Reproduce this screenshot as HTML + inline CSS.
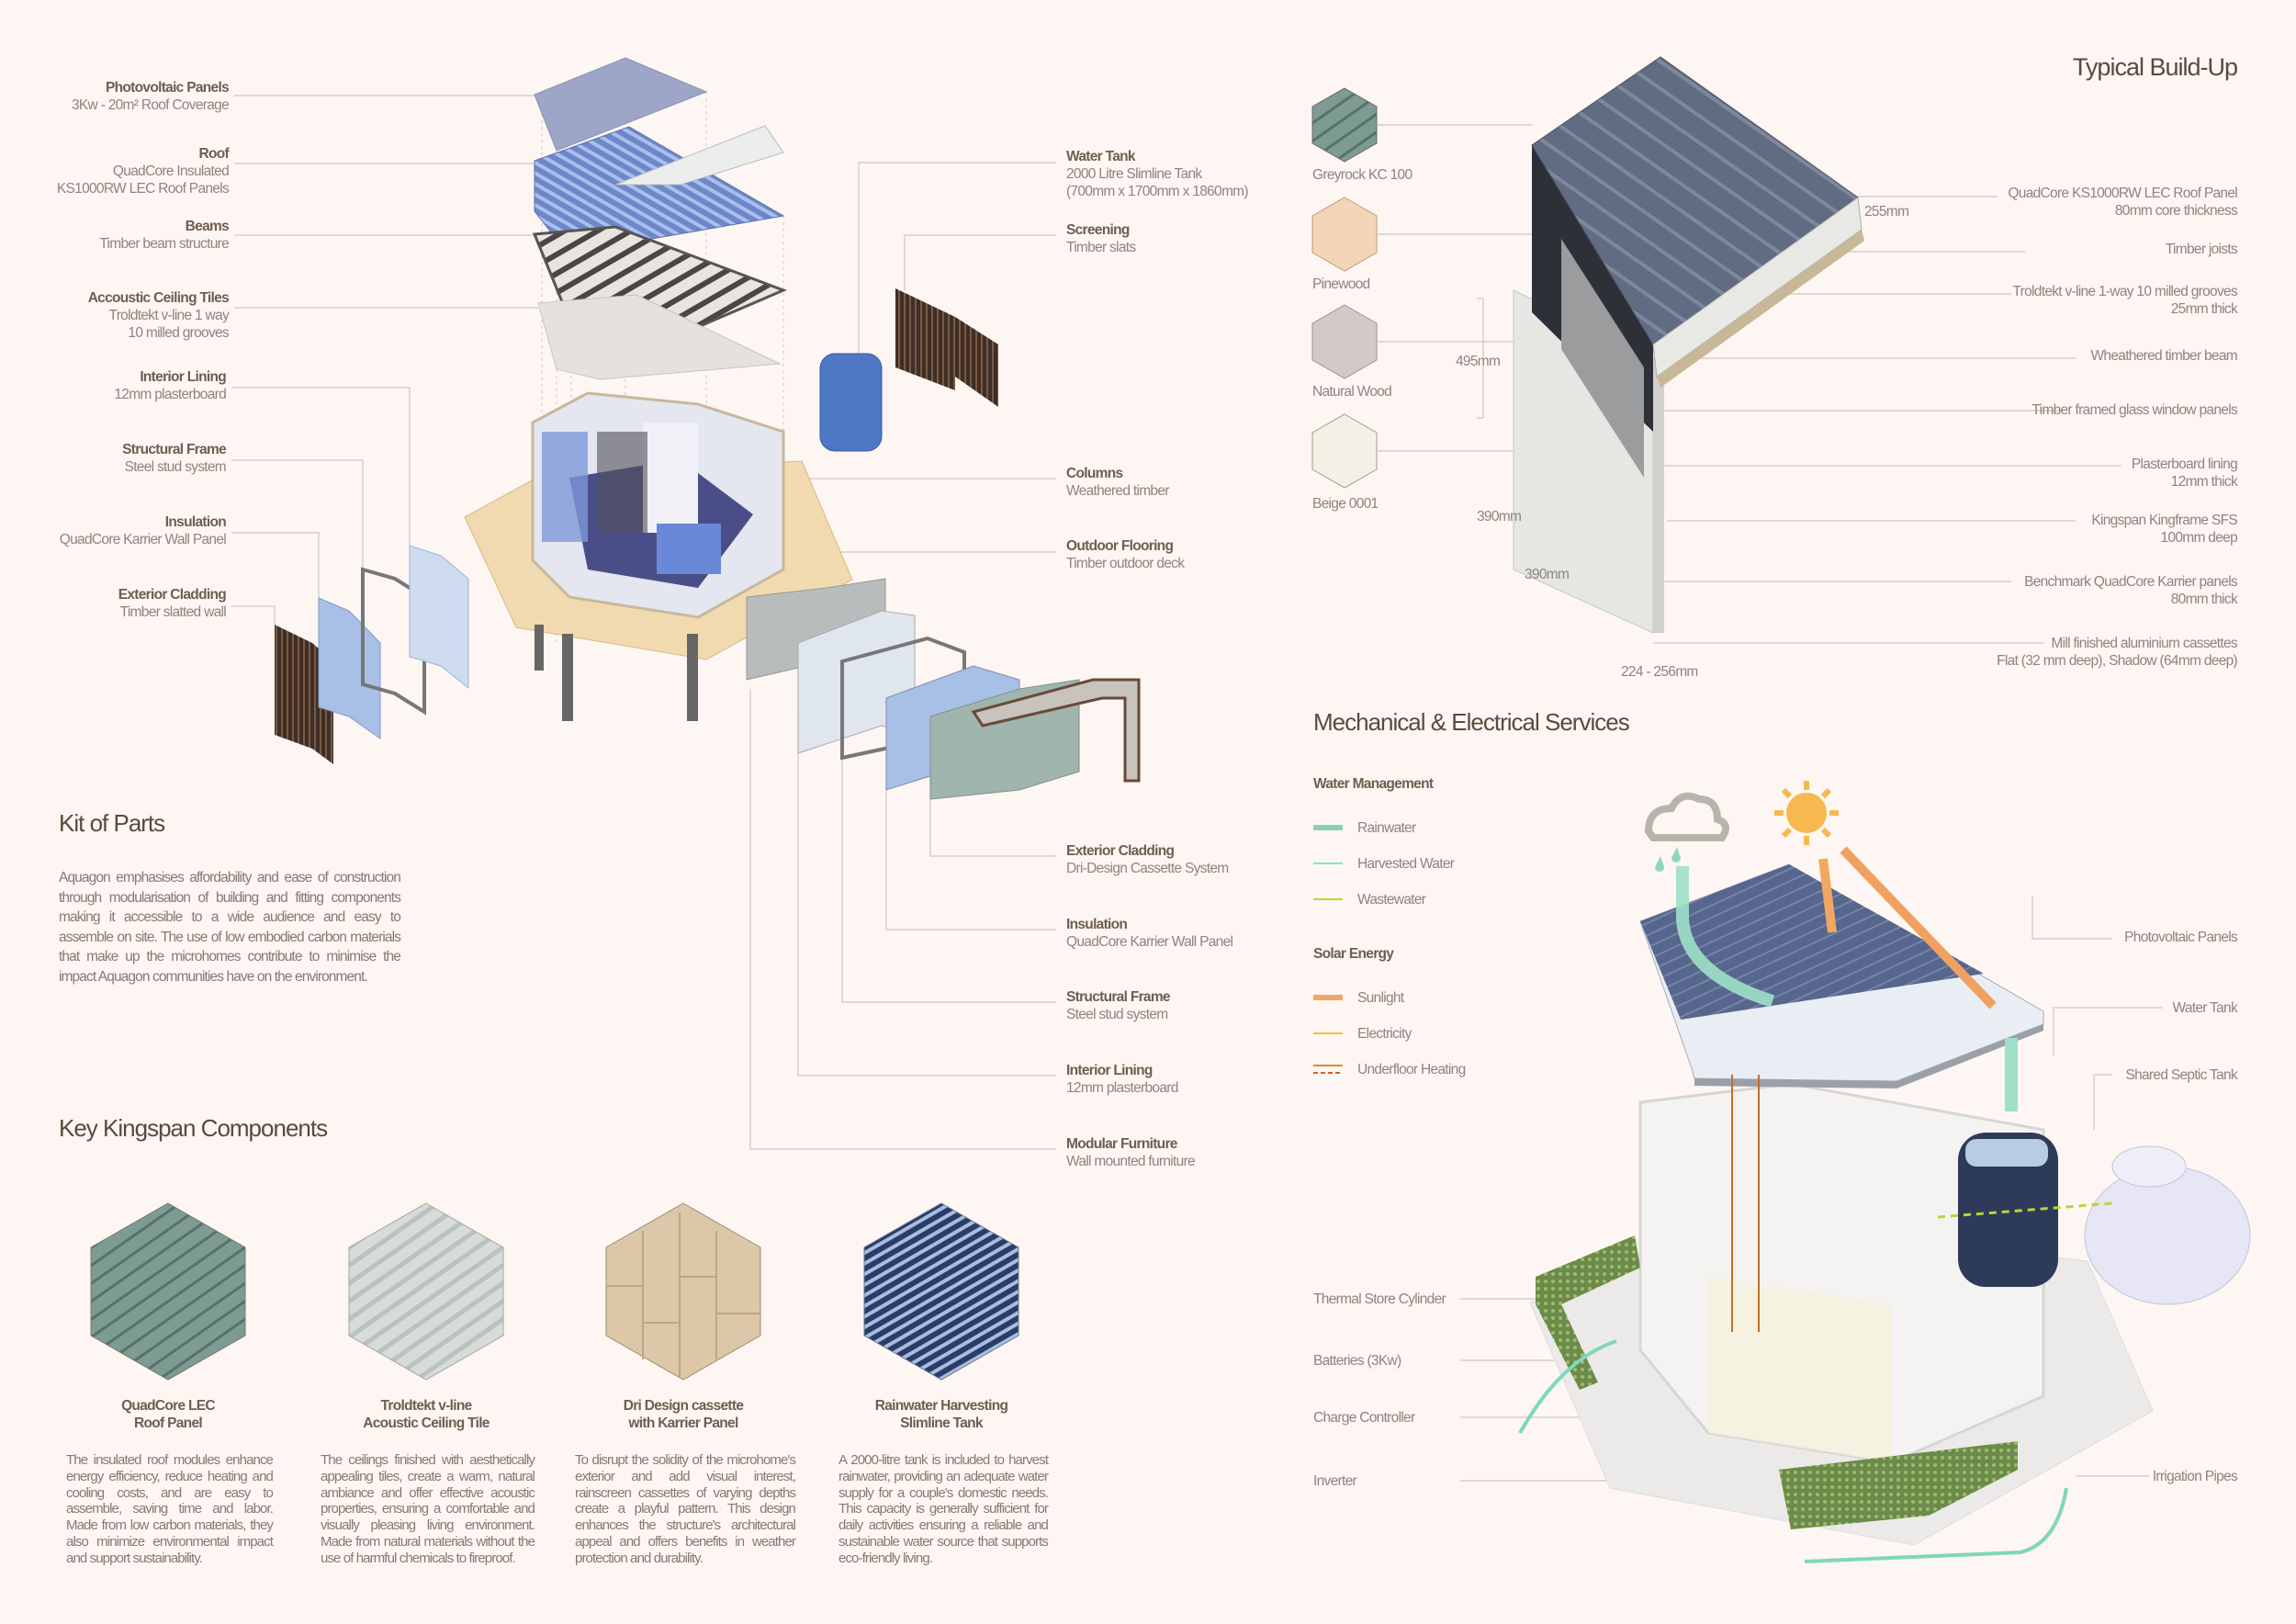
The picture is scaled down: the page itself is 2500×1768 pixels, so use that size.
<!DOCTYPE html>
<html><head><meta charset="utf-8">
<style>
*{margin:0;padding:0;box-sizing:border-box}
body{width:2500px;height:1768px;background:#fdf6f2;position:relative;overflow:hidden;font-family:"Liberation Sans Narrow","Liberation Sans",sans-serif;color:#8e847b}
svg{position:absolute;left:0;top:0}
.t{position:absolute;font-size:15.5px;line-height:19px;letter-spacing:-0.7px;white-space:nowrap}
.r{text-align:right}
.b{font-weight:bold;color:#6e5e50}
h2{position:absolute;font-weight:normal;font-size:26px;color:#5a4a3c;letter-spacing:-1px;white-space:nowrap}
.p{position:absolute;font-size:15px;line-height:17.8px;text-align:justify;letter-spacing:-0.9px;color:#857a70}
.c{text-align:center}
</style></head><body>
<svg width="2500" height="1768" viewBox="0 0 2500 1768">
<defs>
<pattern id="st" width="10" height="10" patternUnits="userSpaceOnUse" patternTransform="rotate(30)"><rect width="10" height="10" fill="#6f86c8"/><rect width="10" height="4" fill="#a8c0ee"/></pattern>
<pattern id="bm" width="18" height="18" patternUnits="userSpaceOnUse" patternTransform="rotate(-30)"><rect width="18" height="18" fill="#e8e4df"/><rect width="18" height="6" fill="#4a4644"/></pattern>
<pattern id="pv" width="12" height="12" patternUnits="userSpaceOnUse" patternTransform="rotate(-25)"><rect width="12" height="12" fill="#56668c"/><rect width="12" height="2" fill="#7484a8"/></pattern>
<pattern id="rf" width="24" height="24" patternUnits="userSpaceOnUse" patternTransform="rotate(35)"><rect width="24" height="24" fill="#616c82"/><rect width="24" height="4" fill="#7d889c"/></pattern>
<pattern id="sl" width="6" height="6" patternUnits="userSpaceOnUse"><rect width="6" height="6" fill="#3e2e26"/><rect width="2" height="6" fill="#7a5a44"/></pattern>
<pattern id="h1" width="16" height="16" patternUnits="userSpaceOnUse" patternTransform="rotate(-35)"><rect width="16" height="16" fill="#7d9b92"/><rect width="16" height="3" fill="#56726a"/></pattern>
<pattern id="h2" width="16" height="16" patternUnits="userSpaceOnUse" patternTransform="rotate(-35)"><rect width="16" height="16" fill="#d5dcd9"/><rect width="16" height="5" fill="#b8c2c0"/></pattern>
<pattern id="h4" width="10" height="10" patternUnits="userSpaceOnUse" patternTransform="rotate(-30)"><rect width="10" height="10" fill="#2a3d6a"/><rect width="10" height="4" fill="#a9bddd"/></pattern>
<pattern id="gr" width="8" height="8" patternUnits="userSpaceOnUse"><rect width="8" height="8" fill="#6c8a4a"/><circle cx="3" cy="3" r="2" fill="#9dbb6a"/></pattern>
</defs>
<g stroke="#cfc6be" stroke-width="1.2" fill="none">
<path d="M255 104H582"/><path d="M255 178H582"/><path d="M255 256H582"/><path d="M255 335H586"/>
<path d="M252 422H446V594"/><path d="M252 501H395V620"/><path d="M252 580H347V651"/><path d="M252 660H299V680"/>
<path d="M1150 177H935V385"/><path d="M1150 256H985V316"/><path d="M1150 521H850"/><path d="M1150 601H900"/>
<path d="M1150 932H1013V840"/><path d="M1150 1012H965V820"/><path d="M1150 1091H917V800"/><path d="M1150 1171H869V780"/><path d="M1150 1251H817V750"/>
<path d="M1500 136H1668"/><path d="M1500 255H1668"/><path d="M1500 372H1658"/><path d="M1500 491H1648"/>
<path d="M2020 214H2175"/><path d="M1990 274H2205"/><path d="M1890 320H2190"/><path d="M1825 390H2260"/><path d="M1810 447H2245"/><path d="M1812 507H2310"/><path d="M1815 567H2260"/><path d="M1810 633H2190"/><path d="M1800 700H2225"/>
<path d="M1615 325V455M1608 325H1615M1608 455H1615"/>
<path d="M2213 975V1022H2300"/><path d="M2236 1150V1097H2355"/><path d="M2280 1230V1170H2300"/><path d="M1590 1414H1860"/><path d="M1590 1481H1870"/><path d="M1590 1543H1870"/><path d="M1590 1612H1935V1530"/><path d="M2260 1607H2340"/>
</g>
<g stroke="#cfc6be" stroke-dasharray="3 4" fill="none">
<path d="M590 103V700M606 164V700M681 63V500M769 100V450M853 235V700M622 353V700"/>
</g>
<polygon points="582,103 681,63 769,100 606,164" fill="#9ea6c8" stroke="#8890b0"/>
<polygon points="582,175 685,138 853,235 618,276 582,230" fill="url(#st)" stroke="#5a70b0"/>
<polygon points="670,201 833,137 853,166 741,201" fill="#eceeed" stroke="#bbb"/>
<polygon points="582,255 670,247 853,316 753,359 622,353" fill="url(#bm)" stroke="#555" stroke-width="3"/>
<polygon points="586,330 693,321 849,396 654,413 606,402" fill="#e4e1df" stroke="#c8c4c0"/>
<polygon points="506,563 590,517 873,502 928,631 769,718 562,683" fill="#f2dab0" stroke="#d8b884"/>
<polygon points="580,460 640,428 760,440 853,470 853,620 760,672 620,650 580,610" fill="#e4e6f0" stroke="#c8b89c" stroke-width="3"/>
<polygon points="620,520 740,500 820,560 760,640 640,620" fill="#4a4e88"/>
<rect x="590" y="470" width="50" height="120" fill="#7e98d8" opacity=".8"/>
<rect x="700" y="460" width="60" height="120" fill="#f0f0f6"/>
<rect x="715" y="570" width="70" height="55" fill="#6a88d8"/>
<rect x="650" y="470" width="55" height="110" fill="#50505a" opacity=".6"/>
<g fill="#666"><rect x="612" y="690" width="12" height="95"/><rect x="748" y="690" width="12" height="95"/><rect x="582" y="680" width="10" height="50"/></g>
<polygon points="299,680 340,700 363,720 363,832 340,815 299,800" fill="url(#sl)"/>
<polygon points="347,651 380,665 414,700 414,804 380,780 347,770" fill="#a8c0e6" stroke="#7f9ad0"/>
<polygon points="395,620 430,630 462,650 462,775 430,755 395,745" fill="none" stroke="#777" stroke-width="4"/>
<polygon points="446,594 480,605 510,630 510,749 480,725 446,715" fill="#cfdcef" stroke="#a0b4d8"/>
<rect x="893" y="385" width="67" height="106" rx="16" fill="#4e78c4" stroke="#3a5aa0"/>
<polygon points="975,314 1040,345 1087,375 1087,443 1040,410 1040,425 975,400" fill="url(#sl)"/>
<polygon points="813,650 900,640 964,630 964,705 900,720 813,740" fill="#b8bcbc" stroke="#999"/>
<polygon points="869,700 960,665 996,670 996,800 960,790 869,820" fill="#dfe6ee" stroke="#aaa"/>
<polygon points="917,720 1010,695 1050,710 1050,820 1010,805 917,825" fill="none" stroke="#777" stroke-width="4"/>
<polygon points="965,760 1060,725 1110,740 1110,840 1060,830 965,860" fill="#a8bfe6" stroke="#88a"/>
<polygon points="1013,780 1110,750 1175,740 1175,840 1110,860 1013,870" fill="#9fb5ad" stroke="#7e948c"/>
<polygon points="1060,775 1190,740 1240,740 1240,850 1225,850 1225,760 1200,760 1070,790" fill="#c8c4bc" stroke="#6a4a3a" stroke-width="3"/>
<polygon points="1464,96 1499,116 1499,156 1464,176 1429,156 1429,116" fill="url(#h1)" stroke="#6a6a60"/>
<polygon points="1464,215 1499,235 1499,275 1464,295 1429,275 1429,235" fill="#f3d6b8" stroke="#b89a7a"/>
<polygon points="1464,332 1499,352 1499,392 1464,412 1429,392 1429,352" fill="#d4c8c8" stroke="#a09090"/>
<polygon points="1464,451 1499,471 1499,511 1464,531 1429,511 1429,471" fill="#f3f1e6" stroke="#a09a88"/>
<polygon points="1648,316 1800,390 1800,689 1648,620" fill="#e6e6e2" stroke="#c8c8c4"/>
<polygon points="1800,390 1812,390 1812,689 1800,689" fill="#d0d0cc"/>
<polygon points="1668,158 1800,375 1800,470 1668,340" fill="#2e3038"/>
<polygon points="1700,260 1790,400 1790,520 1700,380" fill="#9a9c9e"/>
<polygon points="1668,158 1808,62 2023,215 1800,375" fill="url(#rf)" stroke="#4a5262"/>
<polygon points="1800,375 2023,215 2027,250 1804,410" fill="#e8e8e4" stroke="#aaa"/>
<polygon points="1804,410 2027,250 2030,262 1808,422" fill="#c8b898"/>
<polygon points="1666,1418 1753,1620 2084,1682 2344,1536 2273,1373 1900,1330" fill="#eceae8" stroke="#ddd"/>
<polygon points="1786,1200 1950,1180 2225,1230 2225,1520 2060,1592 1860,1560 1786,1470" fill="#f4f3f2" stroke="#d6d6d6" stroke-width="3"/>
<polygon points="1860,1390 2060,1420 2060,1592 1860,1560" fill="#f6f1dc" opacity=".8"/>
<rect x="2132" y="1233" width="109" height="168" rx="30" fill="#2e3a5a"/>
<rect x="2140" y="1240" width="90" height="30" rx="12" fill="#b8cce4"/>
<ellipse cx="2360" cy="1345" rx="90" ry="75" fill="#e6e6f4" stroke="#c4c4dc"/>
<ellipse cx="2340" cy="1270" rx="40" ry="22" fill="#eeeef8" stroke="#c4c4dc"/>
<polygon points="1672,1390 1780,1345 1786,1380 1700,1420 1740,1505 1720,1513 1672,1420" fill="url(#gr)"/>
<polygon points="1937,1600 2197,1569 2197,1600 2100,1650 1950,1665" fill="url(#gr)"/>
<polygon points="1786,1003 1948,941 2225,1101 2225,1115 2065,1177 1845,1174 1842,1163" fill="#e8eef4" stroke="#aab"/>
<polygon points="1786,1003 1948,941 2160,1060 1830,1110" fill="url(#pv)"/>
<polygon points="1845,1174 2065,1177 2225,1115 2225,1122 2065,1185 1845,1182" fill="#9aa0a8"/>
<path d="M1832 943 V1000 Q1835 1060 1930 1090" stroke="#9ee0c8" stroke-width="14" fill="none" opacity=".9"/>
<path d="M1985 935 L1995 1015" stroke="#f0a860" stroke-width="10"/>
<path d="M2007 925 L2170 1095" stroke="#f0a060" stroke-width="10"/>
<path d="M2190 1130 V1210" stroke="#9ee0c8" stroke-width="14"/>
<path d="M1886 1170V1450M1915 1170V1450" stroke="#c0702a" stroke-width="2"/>
<path d="M2110 1325 L2300 1310" stroke="#b8d830" stroke-width="3" stroke-dasharray="8 6"/>
<path d="M1655 1560 Q1700 1480 1760 1460" stroke="#7ed8b8" stroke-width="4" fill="none"/>
<path d="M1965 1700 L2200 1690 Q2240 1680 2250 1620" stroke="#7ed8b8" stroke-width="4" fill="none"/>
<g fill="#f8b850"><circle cx="1967" cy="885" r="22"/>
<g stroke="#f8b850" stroke-width="6"><path d="M1967 850V860M1967 910V920M1932 885H1942M1992 885H2002M1942 860L1949 867M1985 903L1992 910M1992 860L1985 867M1942 910L1949 903"/></g></g>
<path d="M1795 905 q0-25 25-25 q10-20 30-10 q20 0 20 22 q15 5 5 20 h-75 z" fill="none" stroke="#b8b4ac" stroke-width="8"/>
<path d="M1808 932 l-6 12 a5 5 0 0 0 10 0 z M1826 922 l-6 12 a5 5 0 0 0 10 0 z" fill="#8ed8c0"/>
<path d="M1430 901H1462" stroke="#8ed0b8" stroke-width="6"/>
<path d="M1430 940H1462" stroke="#7ee8c8" stroke-width="2"/>
<path d="M1430 979H1462" stroke="#b8d830" stroke-width="2"/>
<path d="M1430 1086H1462" stroke="#f0a868" stroke-width="6"/>
<path d="M1430 1125H1462" stroke="#f2c030" stroke-width="2"/>
<path d="M1430 1160H1462" stroke="#e08a2a" stroke-width="2"/><path d="M1430 1168H1462" stroke="#e05a2a" stroke-width="2" stroke-dasharray="5 3"/>
<polygon points="183,1310 267,1358 267,1454 183,1502 99,1454 99,1358" fill="url(#h1)" stroke="#7a766c"/>
<polygon points="464,1310 548,1358 548,1454 464,1502 380,1454 380,1358" fill="url(#h2)" stroke="#a8a49c"/>
<polygon points="744,1310 828,1358 828,1454 744,1502 660,1454 660,1358" fill="#dcc8a8" stroke="#9a8a70"/>
<g stroke="#bda682" stroke-width="2" fill="none"><path d="M700 1340V1480M740 1320V1500M780 1340V1480M660 1400H700M740 1390H780M700 1440H740M780 1430H828"/></g>
<polygon points="1025,1310 1109,1358 1109,1454 1025,1502 941,1454 941,1358" fill="url(#h4)" stroke="#6a7890"/>
</svg>

<div class="t r" style="right:2251px;top:86px"><span class="b">Photovoltaic Panels</span><br>3Kw - 20m² Roof Coverage</div>
<div class="t r" style="right:2251px;top:158px"><span class="b">Roof</span><br>QuadCore Insulated<br>KS1000RW LEC Roof Panels</div>
<div class="t r" style="right:2251px;top:237px"><span class="b">Beams</span><br>Timber beam structure</div>
<div class="t r" style="right:2251px;top:315px"><span class="b">Accoustic Ceiling Tiles</span><br>Troldtekt v-line 1 way<br>10 milled grooves</div>
<div class="t r" style="right:2254px;top:401px"><span class="b">Interior Lining</span><br>12mm plasterboard</div>
<div class="t r" style="right:2254px;top:480px"><span class="b">Structural Frame</span><br>Steel stud system</div>
<div class="t r" style="right:2254px;top:559px"><span class="b">Insulation</span><br>QuadCore Karrier Wall Panel</div>
<div class="t r" style="right:2254px;top:638px"><span class="b">Exterior Cladding</span><br>Timber slatted wall</div>
<div class="t" style="left:1161px;top:161px"><span class="b">Water Tank</span><br>2000 Litre Slimline Tank<br>(700mm x 1700mm x 1860mm)</div>
<div class="t" style="left:1161px;top:241px"><span class="b">Screening</span><br>Timber slats</div>
<div class="t" style="left:1161px;top:506px"><span class="b">Columns</span><br>Weathered timber</div>
<div class="t" style="left:1161px;top:585px"><span class="b">Outdoor Flooring</span><br>Timber outdoor deck</div>
<div class="t" style="left:1161px;top:917px"><span class="b">Exterior Cladding</span><br>Dri-Design Cassette System</div>
<div class="t" style="left:1161px;top:997px"><span class="b">Insulation</span><br>QuadCore Karrier Wall Panel</div>
<div class="t" style="left:1161px;top:1076px"><span class="b">Structural Frame</span><br>Steel stud system</div>
<div class="t" style="left:1161px;top:1156px"><span class="b">Interior Lining</span><br>12mm plasterboard</div>
<div class="t" style="left:1161px;top:1236px"><span class="b">Modular Furniture</span><br>Wall mounted furniture</div>

<h2 style="left:64px;top:881px">Kit of Parts</h2>
<div class="p" style="left:64px;top:945px;width:372px;line-height:21.5px;font-size:15.5px">Aquagon emphasises affordability and ease of construction through modularisation of building and fitting components making it accessible to a wide audience and easy to assemble on site. The use of low embodied carbon materials that make up the microhomes contribute to minimise the impact Aquagon communities have on the environment.</div>
<h2 style="left:64px;top:1213px">Key Kingspan Components</h2>

<div class="t c b" style="left:83px;width:200px;top:1521px">QuadCore LEC<br>Roof Panel</div>
<div class="t c b" style="left:364px;width:200px;top:1521px">Troldtekt v-line<br>Acoustic Ceiling Tile</div>
<div class="t c b" style="left:644px;width:200px;top:1521px">Dri Design cassette<br>with Karrier Panel</div>
<div class="t c b" style="left:925px;width:200px;top:1521px">Rainwater Harvesting<br>Slimline Tank</div>
<div class="p" style="left:72px;top:1581px;width:225px">The insulated roof modules enhance energy efficiency, reduce heating and cooling costs, and are easy to assemble, saving time and labor. Made from low carbon materials, they also minimize environmental impact and support sustainability.</div>
<div class="p" style="left:349px;top:1581px;width:233px">The ceilings finished with aesthetically appealing tiles, create a warm, natural ambiance and offer effective acoustic properties, ensuring a comfortable and visually pleasing living environment. Made from natural materials without the use of harmful chemicals to fireproof.</div>
<div class="p" style="left:626px;top:1581px;width:240px">To disrupt the solidity of the microhome's exterior and add visual interest, rainscreen cassettes of varying depths create a playful pattern. This design enhances the structure's architectural appeal and offers benefits in weather protection and durability.</div>
<div class="p" style="left:913px;top:1581px;width:228px">A 2000-litre tank is included to harvest rainwater, providing an adequate water supply for a couple's domestic needs. This capacity is generally sufficient for daily activities ensuring a reliable and sustainable water source that supports eco-friendly living.</div>

<h2 class="r" style="right:64px;top:58px;font-size:27px">Typical Build-Up</h2>
<div class="t" style="left:1429px;top:181px">Greyrock KC 100</div>
<div class="t" style="left:1429px;top:300px">Pinewood</div>
<div class="t" style="left:1429px;top:417px">Natural Wood</div>
<div class="t" style="left:1429px;top:539px">Beige 0001</div>
<div class="t" style="left:2030px;top:221px">255mm</div>
<div class="t" style="left:1585px;top:384px">495mm</div>
<div class="t" style="left:1608px;top:553px">390mm</div>
<div class="t" style="left:1660px;top:616px">390mm</div>
<div class="t" style="left:1765px;top:722px">224 - 256mm</div>
<div class="t r" style="right:64px;top:201px">QuadCore KS1000RW LEC Roof Panel<br>80mm core thickness</div>
<div class="t r" style="right:64px;top:262px">Timber joists</div>
<div class="t r" style="right:64px;top:308px">Troldtekt v-line 1-way 10 milled grooves<br>25mm thick</div>
<div class="t r" style="right:64px;top:378px">Wheathered timber beam</div>
<div class="t r" style="right:64px;top:437px">Timber framed glass window panels</div>
<div class="t r" style="right:64px;top:496px">Plasterboard lining<br>12mm thick</div>
<div class="t r" style="right:64px;top:557px">Kingspan Kingframe SFS<br>100mm deep</div>
<div class="t r" style="right:64px;top:624px">Benchmark QuadCore Karrier panels<br>80mm thick</div>
<div class="t r" style="right:64px;top:691px">Mill finished aluminium cassettes<br>Flat (32 mm deep), Shadow (64mm deep)</div>

<h2 style="left:1430px;top:771px">Mechanical &amp; Electrical Services</h2>
<div class="t b" style="left:1430px;top:844px">Water Management</div>
<div class="t" style="left:1478px;top:892px">Rainwater</div>
<div class="t" style="left:1478px;top:931px">Harvested Water</div>
<div class="t" style="left:1478px;top:970px">Wastewater</div>
<div class="t b" style="left:1430px;top:1029px">Solar Energy</div>
<div class="t" style="left:1478px;top:1077px">Sunlight</div>
<div class="t" style="left:1478px;top:1116px">Electricity</div>
<div class="t" style="left:1478px;top:1155px">Underfloor Heating</div>
<div class="t r" style="right:64px;top:1011px">Photovoltaic Panels</div>
<div class="t r" style="right:64px;top:1088px">Water Tank</div>
<div class="t r" style="right:64px;top:1161px">Shared Septic Tank</div>
<div class="t r" style="right:64px;top:1598px">Irrigation Pipes</div>
<div class="t" style="left:1430px;top:1405px">Thermal Store Cylinder</div>
<div class="t" style="left:1430px;top:1472px">Batteries (3Kw)</div>
<div class="t" style="left:1430px;top:1534px">Charge Controller</div>
<div class="t" style="left:1430px;top:1603px">Inverter</div>
</body></html>
